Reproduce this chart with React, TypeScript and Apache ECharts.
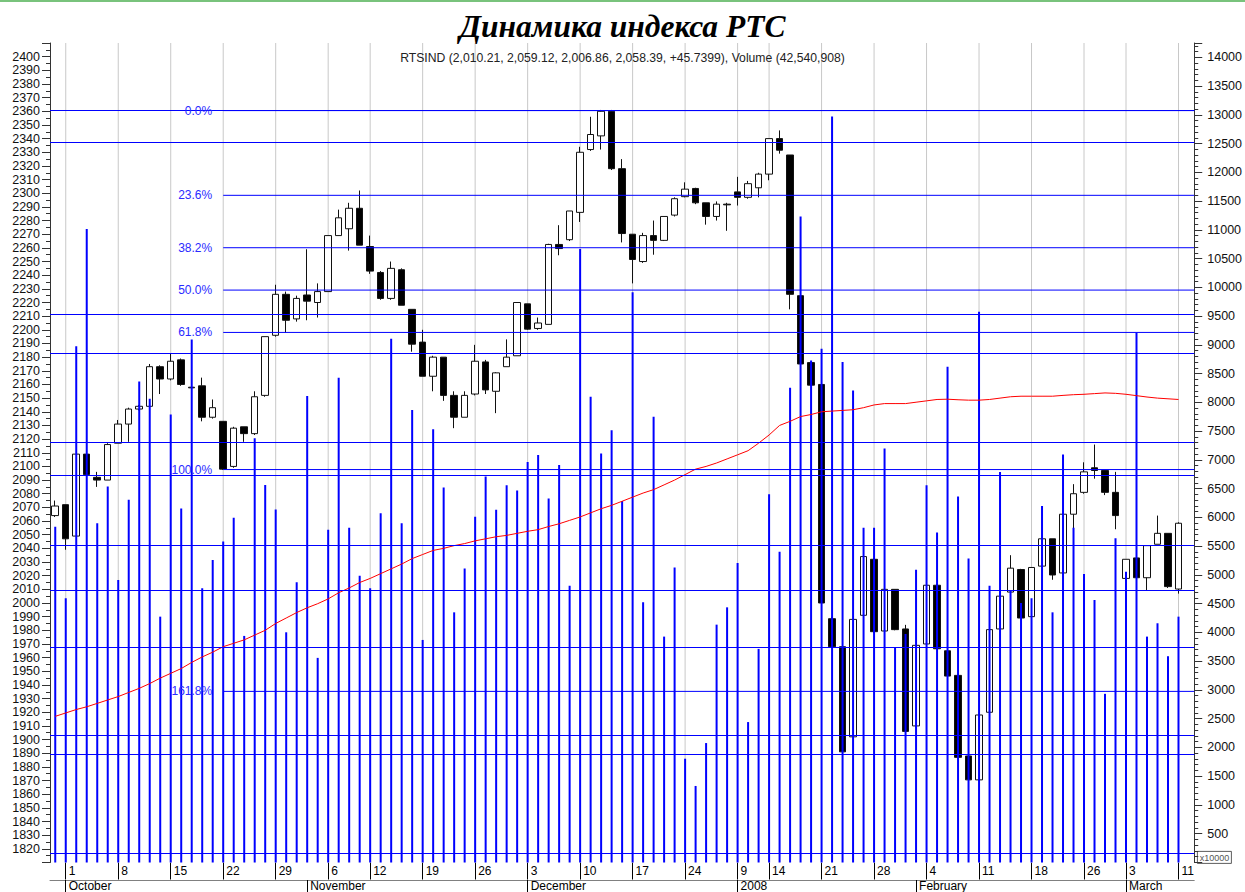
import React, { useEffect, useRef } from 'react';
import * as echarts from 'echarts';

const dates = [
  '2007-09-28',
  '2007-10-01', '2007-10-02', '2007-10-03', '2007-10-04', '2007-10-05',
  '2007-10-08', '2007-10-09', '2007-10-10', '2007-10-11', '2007-10-12',
  '2007-10-15', '2007-10-16', '2007-10-17', '2007-10-18', '2007-10-19',
  '2007-10-22', '2007-10-23', '2007-10-24', '2007-10-25', '2007-10-26',
  '2007-10-29', '2007-10-30', '2007-10-31', '2007-11-01', '2007-11-02',
  '2007-11-06', '2007-11-07', '2007-11-08', '2007-11-09',
  '2007-11-12', '2007-11-13', '2007-11-14', '2007-11-15', '2007-11-16',
  '2007-11-19', '2007-11-20', '2007-11-21', '2007-11-22', '2007-11-23',
  '2007-11-26', '2007-11-27', '2007-11-28', '2007-11-29', '2007-11-30',
  '2007-12-03', '2007-12-04', '2007-12-05', '2007-12-06', '2007-12-07',
  '2007-12-10', '2007-12-11', '2007-12-12', '2007-12-13', '2007-12-14',
  '2007-12-17', '2007-12-18', '2007-12-19', '2007-12-20', '2007-12-21',
  '2007-12-24', '2007-12-25', '2007-12-26', '2007-12-27', '2007-12-28',
  '2008-01-09', '2008-01-10', '2008-01-11',
  '2008-01-14', '2008-01-15', '2008-01-16', '2008-01-17', '2008-01-18',
  '2008-01-21', '2008-01-22', '2008-01-23', '2008-01-24', '2008-01-25',
  '2008-01-28', '2008-01-29', '2008-01-30', '2008-01-31', '2008-02-01',
  '2008-02-04', '2008-02-05', '2008-02-06', '2008-02-07', '2008-02-08',
  '2008-02-11', '2008-02-12', '2008-02-13', '2008-02-14', '2008-02-15',
  '2008-02-18', '2008-02-19', '2008-02-20', '2008-02-21', '2008-02-22',
  '2008-02-26', '2008-02-27', '2008-02-28', '2008-02-29',
  '2008-03-03', '2008-03-04', '2008-03-05', '2008-03-06', '2008-03-07',
  '2008-03-11',
];

const opens = [
  2064, 2072, 2049, 2109, 2092, 2090, 2117, 2131, 2142, 2144,
  2173, 2164, 2178, 2158, 2159, 2136, 2133, 2100, 2129, 2124,
  2152, 2196, 2226, 2208, 2225.5, 2220, 2228, 2269, 2274, 2289,
  2261, 2242, 2223, 2244, 2215, 2191, 2166, 2180, 2152, 2136,
  2153, 2176.5, 2155, 2173, 2181, 2219, 2201, 2204, 2262.5, 2266,
  2286, 2332, 2342, 2360, 2318, 2270, 2250, 2269, 2265.5, 2284,
  2297.5, 2303.5, 2293, 2283, 2292, 2301, 2297, 2304, 2314, 2340,
  2328, 2225, 2176, 2160, 1988.5, 1968, 1902, 1991, 2032, 1979.5,
  2010, 1981, 1910, 1970, 2013, 1965, 1947, 1888, 1870.5, 1920,
  1981, 2008, 2024.5, 1990, 2027, 2047, 2022, 2065, 2081, 2099,
  2097, 2081, 2018, 2033, 2018.5, 2043, 2051, 2010.21,
];

const closes = [
  2071, 2047, 2109, 2094, 2090, 2116, 2131, 2142, 2144, 2173,
  2164, 2177, 2160, 2157.5, 2136, 2143, 2098, 2128, 2124, 2151,
  2195, 2226, 2207, 2223, 2221, 2228, 2269, 2282, 2289, 2262,
  2243, 2223, 2245, 2218, 2189.5, 2166, 2180, 2152, 2136, 2152,
  2177, 2156, 2168.5, 2180, 2220, 2200.5, 2205, 2262.5, 2259.5, 2287,
  2330, 2343, 2360, 2318, 2270.5, 2251.5, 2269, 2265.5, 2283, 2296,
  2303, 2293, 2283, 2292, 2291.5, 2297, 2307, 2314, 2340, 2331.5,
  2226, 2175, 2159.5, 2000, 1968, 1891, 1988, 2034, 1979, 2010,
  1980.5, 1906, 1969, 2013, 1966.5, 1946.5, 1887, 1870.5, 1918, 1980.5,
  2005, 2025.5, 1989, 2026, 2047, 2020.5, 2065, 2080, 2096, 2097,
  2081, 2064, 2032, 2018.5, 2042, 2051, 2012, 2058.39,
];

const lows = [
  2063, 2039, 2049, 2093, 2085, 2090, 2117, 2118, 2141, 2144,
  2153, 2163, 2159, 2157, 2133, 2135, 2097.5, 2099, 2118, 2123,
  2151, 2195, 2198, 2206, 2207, 2209, 2228, 2269, 2258, 2262,
  2241, 2222, 2222, 2218, 2184, 2166, 2155, 2148, 2128, 2136,
  2152, 2153, 2139, 2173, 2181, 2200, 2200, 2204, 2254.6, 2265,
  2279, 2331, 2332, 2317, 2264, 2234, 2249, 2255, 2265, 2283,
  2297, 2292, 2277, 2280, 2272.5, 2291, 2296, 2297, 2309.5, 2329,
  2215, 2175, 2159, 1999, 1967, 1890, 1902, 1990, 1978, 1979,
  1980, 1905, 1909, 1970, 1966, 1946, 1887, 1869, 1870, 1919,
  1981, 2007, 1989, 1990, 2027, 2017, 2021, 2054, 2080, 2091,
  2079, 2054, 2017, 2018, 2009, 2043, 2011, 2006.86,
];

const highs = [
  2075, 2072, 2109, 2109, 2096, 2117, 2134, 2143, 2145, 2175,
  2174, 2183, 2179, 2158.5, 2165, 2149, 2133, 2129, 2129, 2155,
  2195, 2233, 2228, 2225, 2259, 2234, 2269, 2288, 2293, 2302,
  2269, 2243, 2250, 2245, 2215, 2200, 2181, 2180, 2155, 2155,
  2189, 2178, 2169, 2193, 2220, 2219, 2209, 2263, 2276.6, 2287,
  2334, 2356, 2361, 2361, 2325, 2270, 2271, 2280, 2283, 2297,
  2308, 2304, 2293, 2294, 2293, 2312, 2309, 2315, 2340, 2346,
  2328, 2226, 2176, 2160, 1990, 1968, 1988, 2035, 2033, 2010,
  2010, 1984, 1969, 2014, 2014, 1966, 1947, 1888, 1918, 1981,
  2005, 2035, 2025, 2026, 2047, 2047, 2066, 2087, 2103, 2116,
  2097, 2096, 2032, 2033, 2042, 2064, 2051, 2059.12,
];

const volumes = [
  5837, 4594, 8978, 11015, 5901, 6537, 4911, 6306, 8365, 8065,
  4275, 7792, 6155, 9094, 4767, 5259, 5583, 5993, 3940, 7376,
  6566, 6138, 4003, 4871, 8110, 3558, 5785, 8429, 5820, 4987,
  4767, 6074, 9106, 5901, 7867, 3870, 7532, 6520, 4350, 5114,
  6010, 6711, 6132, 6560, 6468, 6965, 7087, 6329, 6913, 4813,
  10668, 8099, 7110, 7515, 6288, 9915, 4524, 7752, 3928, 5131,
  1805, 1331, 2077, 4136, 4437, 5207, 2442, 3714, 6404, 5403,
  8256, 11234, 8730, 8933, 12970, 8701, 8209, 5820, 5820, 7197,
  3743, 3974, 5091, 6560, 5739, 8620, 6364, 5288, 9575, 4813,
  6791, 4723, 4512, 4594, 6201, 4350, 7093, 5820, 5016, 4564,
  2933, 5640, 5056, 9210, 3928, 4160, 3587, 4275,
];

const movingAverage = [
  1917, 1919.5, 1922, 1924, 1926.5, 1929, 1931.5, 1934.5, 1937.5, 1941,
  1945, 1948.5, 1952, 1956.5, 1960.5, 1964, 1968, 1970.5, 1973, 1976.5,
  1980, 1985, 1989, 1993, 1996.5, 1999.5, 2003, 2007.5, 2011, 2015,
  2018, 2021.5, 2025, 2028.5, 2032.5, 2035.5, 2038.5, 2040, 2042, 2043.5,
  2045.5, 2047, 2048.5, 2049.5, 2051, 2052.5, 2053.7, 2056, 2058, 2060.5,
  2063, 2066, 2069, 2071.5, 2074.5, 2077.5, 2080.5, 2083, 2086.5, 2090,
  2094, 2098, 2100, 2102.5, 2105.5, 2108.5, 2111.5, 2117, 2123, 2130,
  2133, 2136.5, 2138, 2140, 2140.5, 2141, 2141.5, 2143, 2145, 2146,
  2146, 2146, 2147, 2148, 2149, 2149.2, 2148.8, 2148.5, 2148.5, 2149,
  2150, 2151, 2151.4, 2151.4, 2151.4, 2151.4, 2152, 2152.5, 2152.8, 2153.3,
  2153.8, 2153.5, 2152.8, 2151.8, 2150.8, 2150, 2149.5, 2149,
];

const levelLines = [2361, 2337, 2211.3, 2182.7, 2117.8, 2093.6, 2042.3, 2009.5, 1967.8, 1903.5, 1888.9, 1817];

const fibLabels = ['0.0%', '23.6%', '38.2%', '50.0%', '61.8%', '100.0%', '161.8%'];
const fibRatios = [0, 23.6, 38.2, 50, 61.8, 100, 161.8];
const fibHigh = 2360.5;
const fibLow = 2097.7;
const fibStartDate = '2007-10-22';

const monthNames = ['January', 'February', 'March', 'April', 'May', 'June', 'July', 'August', 'September', 'October', 'November', 'December'];

const titleText = 'Динамика индекса РТС';
const subtitleText = 'RTSIND (2,010.21, 2,059.12, 2,006.86, 2,058.39, +45.7399), Volume (42,540,908)';

const SANS = 'Liberation Sans';

function dayOfWeek(d: string) {
  return new Date(d + 'T00:00:00Z').getUTCDay();
}
function monthOf(d: string) {
  return Number(d.slice(5, 7)) - 1;
}
function isWeekStart(i: number) {
  return i > 0 && i < dates.length && dayOfWeek(dates[i]) < dayOfWeek(dates[i - 1]);
}
function isMonthStart(i: number) {
  return i > 0 && i < dates.length && monthOf(dates[i]) !== monthOf(dates[i - 1]);
}

function buildOption() {
  const categories = [...dates, ''];
  const candleData = opens.map((o, i) => [o, closes[i], lows[i], highs[i]]);
  const weekStarts = dates.map((_, i) => i).filter(isWeekStart);
  const fibStart = dates.indexOf(fibStartDate);
  const fibData = fibRatios.map((r) => [fibStart, fibHigh - ((fibHigh - fibLow) * r) / 100]);

  return {
    animation: false,
    backgroundColor: '#ffffff',
    title: [
      {
        text: titleText,
        left: 'center',
        top: 5,
        textStyle: {
          fontFamily: 'Liberation Serif',
          fontStyle: 'italic',
          fontWeight: 'bold',
          fontSize: 31.5,
          color: '#000',
        },
      },
      {
        text: subtitleText,
        left: 'center',
        top: 47,
        textStyle: { fontFamily: SANS, fontWeight: 'normal', fontSize: 12.2, color: '#222' },
      },
    ],
    grid: { left: 50, right: 49.5, top: 43, height: 819.5, containLabel: false },
    xAxis: [
      {
        type: 'category',
        data: categories,
        boundaryGap: true,
        axisLine: { show: false },
        axisTick: {
          show: true,
          alignWithLabel: true,
          interval: (i: number) => isWeekStart(i),
          length: 17,
          lineStyle: { color: '#000', width: 1 },
        },
        axisLabel: {
          interval: (i: number) => isWeekStart(i),
          formatter: (v: string) => (v ? String(Number(v.slice(8, 10))) : ''),
          align: 'left',
          margin: 2,
          padding: [0, 0, 0, 3],
          fontSize: 12,
          color: '#000',
          fontFamily: SANS,
        },
        splitLine: { show: false },
      },
      {
        type: 'category',
        data: categories,
        boundaryGap: true,
        position: 'bottom',
        offset: 17.5,
        axisLine: { show: true, lineStyle: { color: '#808080', width: 1 } },
        axisTick: {
          show: true,
          alignWithLabel: true,
          interval: (i: number) => isMonthStart(i),
          length: 14,
          lineStyle: { color: '#000', width: 1 },
        },
        axisLabel: {
          interval: (i: number) => isMonthStart(i),
          formatter: (v: string) => {
            if (!v) return '';
            const m = monthOf(v);
            return m === 0 ? v.slice(0, 4) : monthNames[m];
          },
          align: 'left',
          margin: 0,
          padding: [0, 0, 0, 3],
          fontSize: 12,
          color: '#000',
          fontFamily: SANS,
        },
        splitLine: { show: false },
      },
    ],
    yAxis: [
      {
        type: 'value',
        position: 'left',
        min: 1810,
        max: 2410,
        interval: 10,
        axisLine: { show: true, lineStyle: { color: '#333', width: 1 } },
        axisTick: { show: true, length: 8, lineStyle: { color: '#333' } },
        minorTick: { show: true, splitNumber: 2, length: 4, lineStyle: { color: '#333' } },
        axisLabel: {
          fontSize: 12.5,
          color: '#111',
          margin: 10,
          fontFamily: SANS,
          formatter: (v: number) => (v < 1815 || v > 2405 ? '' : String(v)),
        },
        splitLine: { show: false },
        minorSplitLine: { show: false },
      },
      {
        type: 'value',
        position: 'right',
        min: 0,
        max: 14250,
        interval: 500,
        axisLine: { show: true, lineStyle: { color: '#333', width: 1 } },
        axisTick: { show: true, length: 8, lineStyle: { color: '#333' } },
        minorTick: { show: true, splitNumber: 5, length: 4, lineStyle: { color: '#333' } },
        axisLabel: {
          fontSize: 12.5,
          color: '#111',
          margin: 13,
          fontFamily: SANS,
          formatter: (v: number) => (v <= 0 || v > 14000 ? '' : String(v)),
        },
        splitLine: { show: false },
        minorSplitLine: { show: false },
      },
    ],
    series: [
      {
        type: 'custom',
        name: 'weekGrid',
        xAxisIndex: 0,
        yAxisIndex: 0,
        z: 1,
        silent: true,
        data: weekStarts.map((i) => [i, 2000]),
        renderItem: (params: any, api: any) => {
          const p = api.coord([api.value(0), api.value(1)]);
          const cs = params.coordSys;
          return {
            type: 'line',
            shape: { x1: p[0], y1: cs.y, x2: p[0], y2: cs.y + cs.height },
            style: { stroke: '#c8c8c8', lineWidth: 1 },
          };
        },
      },
      {
        type: 'candlestick',
        name: 'RTSIND',
        xAxisIndex: 0,
        yAxisIndex: 0,
        z: 2,
        barWidth: 7,
        data: candleData,
        itemStyle: {
          color: '#ffffff',
          color0: '#000000',
          borderColor: '#111111',
          borderColor0: '#111111',
          borderWidth: 1,
        },
        markLine: {
          silent: true,
          symbol: ['none', 'none'],
          z: 5,
          label: { show: false },
          lineStyle: { color: '#0000ff', width: 1, type: 'solid' },
          data: levelLines.map((v) => ({ yAxis: v })),
        },
      },
      {
        type: 'bar',
        name: 'Volume',
        xAxisIndex: 0,
        yAxisIndex: 1,
        z: 3,
        barWidth: 2,
        data: volumes,
        itemStyle: { color: '#0000ff' },
      },
      {
        type: 'line',
        name: 'MA',
        xAxisIndex: 0,
        yAxisIndex: 0,
        z: 4,
        data: movingAverage,
        symbol: 'none',
        showSymbol: false,
        lineStyle: { color: '#ff0000', width: 1 },
      },
      {
        type: 'custom',
        name: 'fib',
        xAxisIndex: 0,
        yAxisIndex: 0,
        z: 6,
        silent: true,
        data: fibData,
        renderItem: (params: any, api: any) => {
          const p = api.coord([api.value(0), api.value(1)]);
          const cs = params.coordSys;
          return {
            type: 'group',
            children: [
              {
                type: 'line',
                shape: { x1: p[0], y1: p[1], x2: cs.x + cs.width, y2: p[1] },
                style: { stroke: '#0000ff', lineWidth: 1 },
              },
              {
                type: 'text',
                style: {
                  text: fibLabels[params.dataIndex],
                  x: p[0] - 11,
                  y: p[1],
                  align: 'right',
                  verticalAlign: 'middle',
                  fill: '#2a2aff',
                  fontSize: 12,
                  fontFamily: SANS,
                },
              },
            ],
          };
        },
      },
    ],
    graphic: [
      {
        type: 'line',
        shape: { x1: 0, y1: 1, x2: 1245, y2: 1 },
        style: { stroke: '#4caf50', lineWidth: 1.5 },
        z: 100,
      },
      {
        type: 'group',
        left: 1197,
        top: 851,
        z: 100,
        children: [
          {
            type: 'rect',
            shape: { x: 0, y: 0, width: 34, height: 12 },
            style: { fill: '#ffffff', stroke: '#333', lineWidth: 0.8 },
          },
          {
            type: 'text',
            style: {
              text: 'x10000',
              x: 17,
              y: 6.5,
              align: 'center',
              verticalAlign: 'middle',
              fontSize: 9,
              fill: '#555',
              fontFamily: SANS,
            },
          },
        ],
      },
    ],
  };
}

export default function App() {
  const ref = useRef<HTMLDivElement>(null);
  useEffect(() => {
    if (!ref.current) return;
    const chart = echarts.init(ref.current, null, { renderer: 'svg' });
    chart.setOption(buildOption() as any);
    return () => chart.dispose();
  }, []);
  return (
    <div
      ref={ref}
      style={{ position: 'absolute', left: 0, top: 0, width: 1245, height: 892, background: '#fff' }}
    />
  );
}
